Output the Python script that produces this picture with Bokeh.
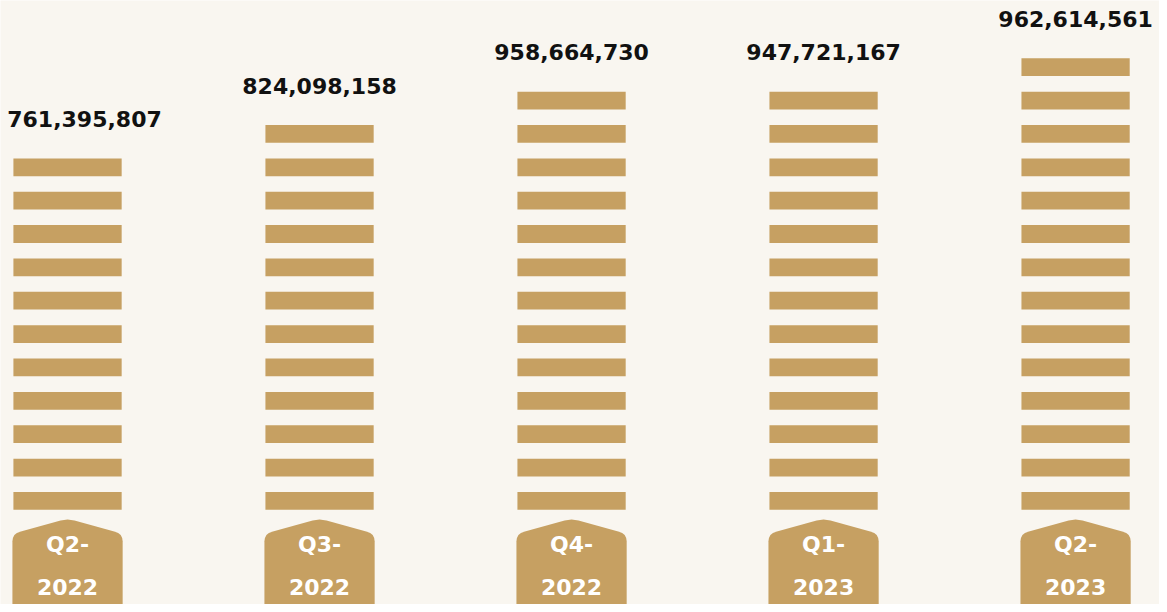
from bokeh.plotting import figure
from bokeh.models import ColumnDataSource, Range1d
from bokeh.core.properties import value
from bokeh.embed import file_html
from bokeh.resources import INLINE

# ---- data ----
categories = ["Q2-2022", "Q3-2022", "Q4-2022", "Q1-2023", "Q2-2023"]
quarter_labels = ["Q2-", "Q3-", "Q4-", "Q1-", "Q2-"]
year_labels = ["2022", "2022", "2022", "2023", "2023"]
values = [761395807, 824098158, 958664730, 947721167, 962614561]
coin_counts = [11, 12, 13, 13, 14]

# ---- layout / style (designed on a 1167x612 canvas, scaled to fit) ----
W, H = 1159, 604
SX, SY = W / 1167, H / 612
BG = "#F9F6F0"
GOLD = "#C6A062"
PX_X = 253.75 * SX      # pixels per category step
PX_Y = 33.8 * SY        # pixels per coin step
X_FIRST = 67.5 * SX     # px of first category centre
Y_BASE = 516 * SY       # px (from top) of data y = 0
COIN_W = 109 * SX / PX_X
COIN_H = 18 * SY / PX_Y
LABEL_HALF_PX = 74


def ydata(ref_py):
    """reference pixel row -> data y"""
    return (Y_BASE - ref_py * SY) / PX_Y


p = figure(width=W, height=H, output_backend="svg", toolbar_location=None,
           x_range=Range1d(-X_FIRST / PX_X, (W - X_FIRST) / PX_X),
           y_range=Range1d((Y_BASE - H) / PX_Y, Y_BASE / PX_Y),
           min_border=0, background_fill_color=BG, border_fill_color=BG,
           outline_line_color=None)
p.axis.visible = False
p.grid.visible = False

# coins
left, right, bottom, top = [], [], [], []
for i, n in enumerate(coin_counts):
    for k in range(n):
        left.append(i - COIN_W / 2)
        right.append(i + COIN_W / 2)
        bottom.append(k)
        top.append(k + COIN_H)
p.quad(left=left, right=right, bottom=bottom, top=top,
       fill_color=GOLD, line_color=None)

# value labels (kept inside the plot horizontally)
x_min = p.x_range.start + (LABEL_HALF_PX + 10) / PX_X
x_max = p.x_range.end - (LABEL_HALF_PX + 2) / PX_X
lab_src = ColumnDataSource(dict(
    x=[min(max(i, x_min), x_max) for i in range(len(categories))],
    y=[(n - 1) + COIN_H + 40 * SY / PX_Y for n in coin_counts],
    t=[f"{v:,}" for v in values]))
p.text(x="x", y="y", text="t", source=lab_src, text_align="center",
       text_baseline="middle", text_font=value("DejaVu Sans"),
       text_font_style="bold", text_font_size="22px", text_color="#111111")

# label tabs (shape in reference px offsets relative to centre)
shape_px = [(-55.5, 640), (-55.5, 548), (-55, 544.5), (-53.5, 541.5), (-51, 539.5),
            (-47, 538), (-7, 527), (0, 526), (7, 527), (47, 538), (51, 539.5),
            (53.5, 541.5), (55, 544.5), (55.5, 548), (55.5, 640)]
xs, ys = [], []
for i in range(len(categories)):
    xs.append([i + dx * SX / PX_X for dx, _ in shape_px])
    ys.append([ydata(sy) for _, sy in shape_px])
p.patches(xs=xs, ys=ys, fill_color=GOLD, line_color=None)

tab_src = ColumnDataSource(dict(
    x=list(range(len(categories))),
    yq=[ydata(551)] * len(categories),
    yy=[ydata(594)] * len(categories),
    q=quarter_labels, yr=year_labels))
for col in (("yq", "q"), ("yy", "yr")):
    p.text(x="x", y=col[0], text=col[1], source=tab_src, text_align="center",
           text_baseline="middle", text_font=value("DejaVu Sans"),
           text_font_style="bold", text_font_size="22px", text_color="white")

html = file_html(p, INLINE)
html = html.replace("<body>", '<body style="background-color:%s;">' % BG, 1)
open("out.html", "w").write(html)
